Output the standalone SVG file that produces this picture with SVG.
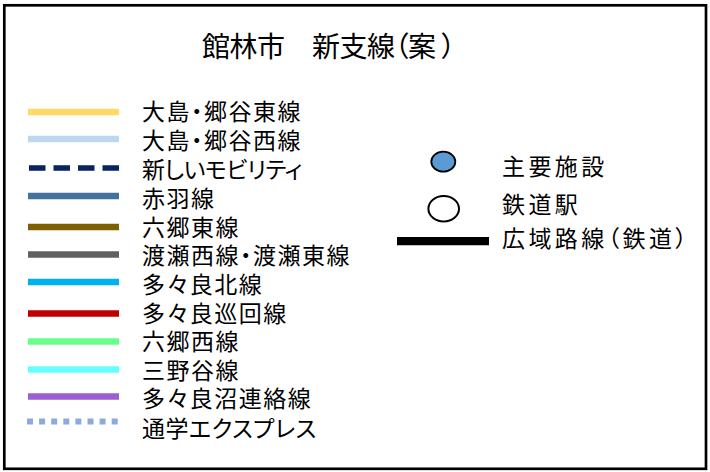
<svg xmlns="http://www.w3.org/2000/svg" width="710" height="472" viewBox="0 0 710 472">
<style>
text{font-family:"Noto Sans CJK JP","Noto Sans CJK SC",sans-serif;fill:#000;font-feature-settings:"palt" 1}
.lbl{font-size:23px;letter-spacing:1.5px}
.rl{font-size:23px;letter-spacing:3.4px}
.ttl{font-size:28px;letter-spacing:-0.5px}
.ln{stroke-width:6.5;fill:none}
</style>
<rect x="4.3" y="5.3" width="701.7" height="463.5" fill="#fff" stroke="#000" stroke-width="2.7"/>
<g id="title">
<text class="ttl" x="202" y="57.2">館林市　新支線（案<tspan dx="6">）</tspan></text>
</g>
<g id="connectors">
<line class="ln" x1="28" y1="112" x2="119" y2="112" stroke="#ffd966"/>
<line class="ln" x1="28" y1="139" x2="119" y2="139" stroke="#bdd7ee"/>
<line x1="29" y1="168" x2="120" y2="168" stroke="#0a2260" stroke-width="5.5" stroke-dasharray="16.5 8"/>
<line class="ln" x1="28" y1="196" x2="119" y2="196" stroke="#44729e"/>
<line class="ln" x1="28" y1="227" x2="119" y2="227" stroke="#7f6000"/>
<line class="ln" x1="28" y1="254.5" x2="119" y2="254.5" stroke="#606060"/>
<line class="ln" x1="28" y1="282" x2="119" y2="282" stroke="#00b0f0"/>
<line class="ln" x1="28" y1="313.5" x2="119" y2="313.5" stroke="#c00000"/>
<line class="ln" x1="28" y1="341.5" x2="119" y2="341.5" stroke="#66ff8c"/>
<line class="ln" x1="28" y1="369.5" x2="119" y2="369.5" stroke="#66ffff"/>
<line class="ln" x1="28" y1="396.5" x2="119" y2="396.5" stroke="#9e5ecf"/>
<line x1="27" y1="421.5" x2="118" y2="421.5" stroke="#8eaadb" stroke-width="6" stroke-dasharray="6 6.1"/>
<line x1="397" y1="241.2" x2="489" y2="241.2" stroke="#000" stroke-width="8.3"/>
</g>
<g id="legend-labels">
<text class="lbl" x="142" y="119.9">大島・郷谷東線</text>
<text class="lbl" x="142" y="149.4">大島・郷谷西線</text>
<text class="lbl" x="142" y="177.8" style="letter-spacing:-0.4px">新しいモビリティ</text>
<text class="lbl" x="142" y="206.6">赤羽線</text>
<text class="lbl" x="142" y="236.1">六郷東線</text>
<text class="lbl" x="142" y="264.4">渡瀬西線・渡瀬東線</text>
<text class="lbl" x="142" y="293.1">多々良北線</text>
<text class="lbl" x="142" y="321.6">多々良巡回線</text>
<text class="lbl" x="142" y="350.3">六郷西線</text>
<text class="lbl" x="142" y="378.6">三野谷線</text>
<text class="lbl" x="142" y="407.4">多々良沼連絡線</text>
<text class="lbl" x="142" y="436.9" style="letter-spacing:0.5px">通学エクスプレス</text>
</g>
<g id="facility">
<ellipse cx="443.3" cy="161.7" rx="12" ry="10" fill="#5b9bd5" stroke="#000" stroke-width="1.8"/>
<text class="rl" x="502" y="174.9">主要施設</text>
</g>
<g id="station">
<ellipse cx="443.7" cy="208.7" rx="15.3" ry="12.7" fill="#fff" stroke="#000" stroke-width="2"/>
<text class="rl" x="502" y="213.1">鉄道駅</text>
</g>
<g id="railway">
<text class="rl" x="502" y="246.9">広域路線（鉄道）</text>
</g>
</svg>
